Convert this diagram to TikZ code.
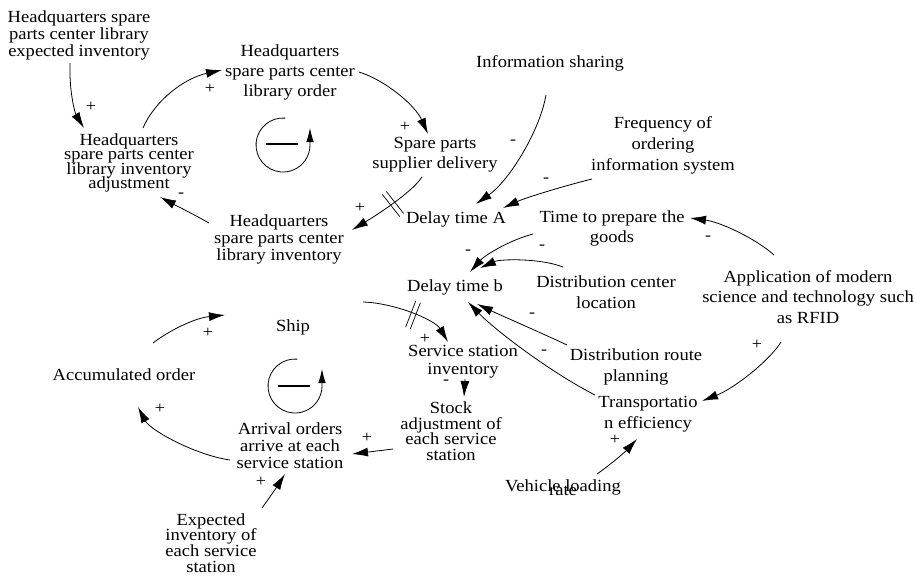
\documentclass[tikz,border=0pt]{standalone}
\usepackage{fontspec}
\setmainfont{Liberation Serif}[FakeStretch=1.09]
\usetikzlibrary{arrows.meta,calc}
\newcommand\tightlines{\lineskiplimit-50pt\relax\lineskip0pt\relax}
\tikzset{
  txt/.style={align=center, inner sep=0pt, font={\fontsize{17}{#1}\selectfont\tightlines}},
  txt/.default=17,
  pol/.style={inner sep=0pt, font={\fontsize{16.5}{16.5}\selectfont}},
  arr/.style={-{Latex[length=16pt,width=9pt]}, line width=0.8pt},
  loopline/.style={line width=0.8pt, -{Latex[length=14pt,width=7.5pt]}},
  delayline/.style={line width=0.7pt},
  barline/.style={line width=2.5pt}
}
\begin{document}
\begin{tikzpicture}[x=1pt,y=1pt]
\useasboundingbox (0,0) rectangle (916,-576);

% variables
\node[txt] (hqexp) at (79,-35) {Headquarters spare\\parts center library\\expected inventory};
\node[txt=20] (hqorder) at (290,-72) {Headquarters\\spare parts center\\library order};
\node[txt=14.5] (hqadj) at (129,-163) {Headquarters\\spare parts center\\library inventory\\adjustment};
\node[txt] (hqinv) at (279,-239) {Headquarters\\spare parts center\\library inventory};
\node[txt=20] (supplier) at (435,-155) {Spare parts\\supplier delivery};
\node[txt] (info) at (550,-63) {Information sharing};
\node[txt=21] (freq) at (663,-145) {Frequency of\\ordering\\information system};
\node[txt] (delayA) at (456,-219) {Delay time A};
\node[txt=20] (timeprep) at (612,-228) {Time to prepare the\\goods};
\node[txt] (delayB) at (455,-287) {Delay time b};
\node[txt=21] (distc) at (606,-292) {Distribution center\\location};
\node[txt=20.5] (rfid) at (808,-297) {Application of modern\\science and technology such\\as RFID};
\node[txt=21] (route) at (636,-367) {Distribution route\\planning};
\node[txt=21] (transp) at (648,-414) {Transportatio\\n efficiency};
\node[txt=4] (vehicle) at (563,-488) {Vehicle loading\\rate};
\node[txt] (ship) at (293,-327) {Ship};
\node[txt] (acc) at (124,-375) {Accumulated order};
\node[txt=18] (servinv) at (463,-362) {Service station\\inventory};
\node[txt=15.5] (stock) at (451,-431) {Stock\\adjustment of\\each service\\station};
\node[txt] (arrival) at (290,-446) {Arrival orders\\arrive at each\\service station};
\node[txt=15.7] (expinv) at (211,-543) {Expected\\inventory of\\each service\\station};

% connectors
\draw[arr] ($(hqexp)+(-9,-28)$) .. controls (69,-95) and (76,-115) .. ($(hqadj)+(-45,35)$);
\draw[arr] ($(hqadj)+(14,35)$) .. controls (155,-100) and (185,-78) .. ($(hqorder)+(-68,2)$);
\draw[arr] ($(hqorder)+(69,0)$) .. controls (385,-80) and (415,-105) .. ($(supplier)+(-7,21)$);
\draw[arr] ($(supplier)+(-13,-22)$) .. controls (412,-192) and (380,-213) .. ($(hqinv)+(73,9)$);
\draw[arr] ($(hqinv)+(-70,16)$) .. controls (195,-215) and (175,-205) .. ($(hqadj)+(31,-34)$);
\draw[arr] ($(info)+(-4,-32)$) .. controls (540,-130) and (510,-180) .. ($(delayA)+(20,15)$);
\draw[arr] ($(freq)+(-71,-34)$) .. controls (560,-187) and (525,-198) .. ($(delayA)+(47,11)$);
\draw[arr] ($(timeprep)+(-79,-6)$) .. controls (510,-240) and (485,-255) .. ($(delayB)+(15,15)$);
\draw[arr] ($(distc)+(-43,25)$) .. controls (540,-258) and (500,-259) .. ($(delayB)+(25,19)$);
\draw[arr] ($(rfid)+(-34,42)$) .. controls (755,-238) and (720,-222) .. ($(timeprep)+(78,10)$);
\draw[arr] ($(rfid)+(-27,-45)$) .. controls (770,-360) and (735,-388) .. ($(transp)+(54,13)$);
\draw[arr] ($(route)+(-69,22)$) .. controls (535,-330) and (500,-315) .. ($(delayB)+(22,-17)$);
\draw[arr] ($(transp)+(-53,19)$) .. controls (550,-372) and (495,-330) .. ($(delayB)+(13,-15)$);
\draw[arr] ($(ship)+(70,25)$) .. controls (395,-303) and (435,-320) .. ($(servinv)+(-15,20)$);
\draw[arr] ($(servinv)+(2,-17)$) -- ($(stock)+(13,34)$);
\draw[arr] ($(stock)+(-58,-18)$) -- ($(arrival)+(62,-8)$);
\draw[arr] ($(arrival)+(-60,-14)$) .. controls (195,-455) and (150,-430) .. ($(acc)+(14,-32)$);
\draw[arr] ($(acc)+(29,32)$) .. controls (170,-330) and (195,-318) .. ($(ship)+(-68,12)$);
\draw[arr] ($(expinv)+(51,35)$) .. controls (270,-497) and (278,-485) .. ($(arrival)+(-5,-28)$);
\draw[arr] ($(vehicle)+(34,14)$) .. controls (610,-465) and (625,-452) .. ($(transp)+(-11,-25)$);

% delay marks
\begin{scope}[shift={(393,-204)},rotate=38]
  \draw[delayline] (-2.5,-14) -- (-2.5,14) (2.5,-14) -- (2.5,14);
\end{scope}
\begin{scope}[shift={(413,-315)},rotate=-21]
  \draw[delayline] (-2.5,-14) -- (-2.5,14) (2.5,-14) -- (2.5,14);
\end{scope}

% loop symbols
\draw[loopline] (283,-145) ++(85:27) arc[start angle=85, end angle=360, radius=27] -- ++(0,17);
\draw[barline] (266,-144) -- (298,-144);
\draw[loopline] (295,-386) ++(85:27) arc[start angle=85, end angle=360, radius=27] -- ++(0,17);
\draw[barline] (278,-386) -- (310,-386);

% polarities
\node[pol] (pa) at (91,-107) {+};
\node[pol] (pb) at (210,-89) {+};
\node[pol] (pc) at (405,-127) {+};
\node[pol] (pd) at (360,-208) {+};
\node[pol] (pe) at (181,-195) {-};
\node[pol] (pf) at (513,-142) {-};
\node[pol] (pg) at (546,-180) {-};
\node[pol] (ph) at (468,-252) {-};
\node[pol] (pdc) at (542,-247) {-};
\node[pol] (pi) at (708,-238) {-};
\node[pol] (pj) at (757,-345) {+};
\node[pol] (pk) at (532,-315) {-};
\node[pol] (pl) at (544,-352) {-};
\node[pol] (pm) at (425,-339) {+};
\node[pol] (pn) at (446,-382) {-};
\node[pol] (po) at (367,-438) {+};
\node[pol] (pp) at (160,-409) {+};
\node[pol] (pq) at (208,-333) {+};
\node[pol] (pr) at (261,-482) {+};
\node[pol] (ps) at (615,-440) {+};
\end{tikzpicture}
\end{document}
